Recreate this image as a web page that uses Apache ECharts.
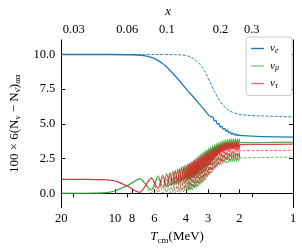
<!DOCTYPE html>
<html><head><meta charset="utf-8">
<script src="https://cdn.jsdelivr.net/npm/echarts@6/dist/echarts.min.js"></script>
<style>html,body{margin:0;padding:0;background:#fff}#c{width:302px;height:250px}</style>
</head><body><div id="c"></div>
<script>
// Shared temperature grid (MeV) for the nu_mu / nu_tau curves
const tOsc = [20, 15.81, 13.13, 11.60, 10.90, 10.25, 9.635, 9.056, 8.513, 8.002, 7.615, 7.247,
  6.247, 5.728, 5.385, 5.125, 4.907, 4.728, 4.584, 4.445, 4.336, 4.230, 4.126, 4.050, 3.976,
  3.903, 3.855, 3.808, 3.761, 3.715, 3.669,
  3.624, 3.579, 3.535, 3.491, 3.448, 3.406, 3.364, 3.323, 3.282, 3.241, 3.201, 3.162, 3.123,
  3.085, 3.047, 3.009, 2.972, 2.936, 2.900, 2.864, 2.829, 2.794, 2.760, 2.726, 2.692, 2.659,
  2.626, 2.594, 2.562, 2.531, 2.500, 2.469, 2.438, 2.408, 2.379, 2.350, 2.321, 2.292, 2.264,
  2.236, 2.208, 2.181, 2.154, 2.128, 2.102, 2.076, 2.050, 2.025, 2.000,
  1.988, 1.50, 1.0];
const muSolid = [0.0, 0.0, 0.01, 0.03, 0.06, 0.13, 0.25, 0.40, 0.56, 0.75, 0.93, 1.05,
  0.25, 1.25, 0.40, 1.42, 0.52, 1.60, 0.62, 1.75, 0.72, 1.90, 0.82, 2.02, 0.90, 2.12, 0.98,
  2.20, 1.03, 2.28, 1.10,
  2.40, 1.20, 2.50, 1.27, 2.62, 1.37, 2.74, 1.47, 2.86, 1.58, 2.97, 1.68, 3.07, 1.80, 3.17,
  1.95, 3.26, 2.10, 3.35, 2.25, 3.44, 2.42, 3.52, 2.58, 3.59, 2.72, 3.65, 2.83, 3.71, 2.95,
  3.77, 3.05, 3.81, 3.12, 3.85, 3.18, 3.88, 3.24, 3.90, 3.28, 3.92, 3.31, 3.92, 3.33, 3.92,
  3.35, 3.92, 3.35, 3.90,
  3.65, 3.66, 3.68];
const tauSolid = [1.0, 1.0, 0.99, 0.98, 0.96, 0.92, 0.82, 0.67, 0.52, 0.32, 0.15, 0.07,
  1.10, 0.35, 1.30, 0.48, 1.48, 0.62, 1.65, 0.75, 1.78, 0.85, 1.92, 0.95, 2.00, 1.02, 2.08,
  1.07, 2.14, 1.12, 2.25,
  1.18, 2.35, 1.26, 2.45, 1.35, 2.57, 1.46, 2.68, 1.58, 2.80, 1.69, 2.90, 1.82, 3.00, 1.95,
  3.08, 2.08, 3.15, 2.22, 3.22, 2.38, 3.30, 2.52, 3.37, 2.66, 3.44, 2.78, 3.50, 2.88, 3.55,
  2.98, 3.60, 3.05, 3.63, 3.10, 3.65, 3.14, 3.65, 3.17, 3.65, 3.19, 3.65, 3.20, 3.65, 3.20,
  3.65, 3.20, 3.65, 3.20,
  3.50, 3.52, 3.54];
const muDashed = [0.0, 0.0, 0.01, 0.03, 0.06, 0.13, 0.25, 0.40, 0.56, 0.75, 0.93, 1.05,
  0.05, 1.10, 0.02, 1.10, 0.02, 1.13, 0.04, 1.17, 0.07, 1.22, 0.10, 1.28, 0.14, 1.33, 0.17,
  1.37, 0.20, 1.41, 0.25,
  1.48, 0.32, 1.56, 0.40, 1.64, 0.50, 1.72, 0.60, 1.80, 0.72, 1.90, 0.85, 2.00, 1.00, 2.10,
  1.15, 2.20, 1.30, 2.30, 1.47, 2.40, 1.62, 2.50, 1.76, 2.59, 1.88, 2.66, 1.98, 2.73, 2.06,
  2.79, 2.12, 2.84, 2.16, 2.87, 2.19, 2.89, 2.21, 2.90, 2.23, 2.90, 2.25, 2.90, 2.25, 2.90,
  2.25, 2.90, 2.25, 2.90,
  2.55, 2.58, 2.62];
const tauDashed = [1.0, 1.0, 0.99, 0.98, 0.96, 0.92, 0.82, 0.67, 0.52, 0.32, 0.15, 0.07,
  1.10, 0.05, 1.15, 0.05, 1.20, 0.07, 1.25, 0.10, 1.30, 0.14, 1.36, 0.19, 1.42, 0.24, 1.46,
  0.28, 1.50, 0.31, 1.55,
  0.38, 1.65, 0.46, 1.75, 0.55, 1.87, 0.65, 2.00, 0.76, 2.12, 0.88, 2.25, 1.02, 2.38, 1.18,
  2.50, 1.32, 2.62, 1.48, 2.74, 1.62, 2.86, 1.78, 2.98, 1.92, 3.08, 2.04, 3.18, 2.15, 3.26,
  2.24, 3.32, 2.31, 3.37, 2.36, 3.40, 2.40, 3.43, 2.42, 3.45, 2.44, 3.45, 2.45, 3.45, 2.45,
  3.45, 2.45, 3.45, 2.45,
  3.05, 3.08, 3.10];
// nu_e curves
const tE = [20, 10.90, 8.002, 7.070, 6.247, 5.872, 5.520, 5.188, 4.584, 3.903, 3.579, 3.162,
  2.864, 2.822, 2.767, 2.712, 2.659, 2.610, 2.562, 2.515, 2.469, 2.423, 2.379, 2.335, 2.292,
  2.250, 2.208, 2.168, 2.128, 2.089, 2.050, 2.013, 1.927, 1.50, 1.0];
const eSolid = [10.0, 10.0, 9.98, 9.93, 9.80, 9.65, 9.43, 9.17, 8.45, 7.40, 6.85, 6.05,
  5.50, 5.50, 5.22, 5.26, 4.98, 5.03, 4.77, 4.84, 4.62, 4.68, 4.47, 4.56, 4.35,
  4.43, 4.25, 4.34, 4.19, 4.27, 4.15, 4.20, 4.15, 4.08, 4.05];
const tEd = [20, 5.872, 4.584, 4.256, 3.855, 3.579, 3.323, 3.123, 2.936, 2.760, 2.594, 2.438,
  2.264, 2.076, 1.812, 1.50, 1.0];
const eDashed = [10.0, 10.0, 9.99, 9.97, 9.88, 9.65, 9.28, 8.78, 8.05, 7.35, 6.72, 6.28,
  5.93, 5.74, 5.62, 5.57, 5.50];
// tick labels
const tTicks = [20, 10, 8, 6, 4, 3, 2, 1];
const xTicks = [0.03, 0.06, 0.1, 0.2, 0.3];
const yTicks = [0, 2.5, 5, 7.5, 10];
const ME = 0.511;

const FONT = 'Liberation Serif';
const BLUE = '#1f77b4', GREEN = '#2ca02c', RED = '#d62728';
const zip = (ts, vs) => ts.map((t, i) => [t, vs[i]]);
const axisLine = {show: true, lineStyle: {color: '#000', width: 1}};
const tickStyle = (vals) => ({show: true, inside: true, length: 4, lineStyle: {color: '#000', width: 1}, customValues: vals});
const richBase = {
  n: {fontFamily: FONT, fontSize: 13, color: '#000', lineHeight: 16, verticalAlign: 'middle'},
  i: {fontFamily: FONT, fontSize: 13, color: '#000', fontStyle: 'italic', lineHeight: 16, verticalAlign: 'middle'},
  s: {fontFamily: FONT, fontSize: 9, color: '#000', lineHeight: 9, verticalAlign: 'bottom'}
};
const legendNames = {'νe': '{g|ν}{s|e}', 'νμ': '{g|ν}{s|μ}', 'ντ': '{g|ν}{s|τ}'};

const chart = echarts.init(document.getElementById('c'), null, {renderer: 'canvas'});
chart.setOption({
  animation: false,
  backgroundColor: '#fff',
  grid: {left: 51, right: 9, top: 32, bottom: 38, containLabel: false},
  legend: {
    data: [
      {name: 'νe', icon: 'rect', itemStyle: {color: BLUE}},
      {name: 'νμ', icon: 'rect', itemStyle: {color: GREEN, opacity: 0.55}},
      {name: 'ντ', icon: 'rect', itemStyle: {color: RED, opacity: 0.65}}
    ],
    orient: 'vertical', right: 10, top: 37,
    backgroundColor: '#fff', borderColor: '#ccc', borderWidth: 1, borderRadius: 3,
    padding: [6, 13, 6, 5], itemWidth: 13, itemHeight: 1.4, itemGap: 6, selectedMode: false,
    formatter: n => legendNames[n],
    textStyle: {padding: [0, 0, 0, 1], rich: {
      g: {fontFamily: FONT, fontSize: 11, fontStyle: 'italic', color: '#000', lineHeight: 12, verticalAlign: 'middle'},
      s: {fontFamily: FONT, fontSize: 8, fontStyle: 'italic', color: '#000', lineHeight: 8, verticalAlign: 'bottom'}
    }}
  },
  xAxis: [{
    type: 'log', logBase: 10, min: 1, max: 20, inverse: true, position: 'bottom', gridIndex: 0,
    axisLine, splitLine: {show: false}, minorTick: {show: false},
    axisTick: tickStyle(tTicks),
    axisLabel: {customValues: tTicks, margin: 5, fontFamily: FONT, fontSize: 12.5, color: '#000', formatter: v => String(+(+v).toPrecision(3))},
    name: '{i|T}{s|cm}{n|(MeV)}', nameLocation: 'middle', nameGap: 19,
    nameTextStyle: {rich: richBase}
  }, {
    type: 'log', logBase: 10, min: ME / 20, max: ME / 1, position: 'top', gridIndex: 0,
    axisLine, splitLine: {show: false}, minorTick: {show: false},
    axisTick: tickStyle(xTicks),
    axisLabel: {customValues: xTicks, margin: 4, fontFamily: FONT, fontSize: 12.5, color: '#000', formatter: v => String(+(+v).toPrecision(3))},
    name: '{i|x}', nameLocation: 'middle', nameGap: 20,
    nameTextStyle: {rich: richBase, padding: [0, 18, 0, 0]}
  }],
  yAxis: [{
    type: 'value', min: -1.03, max: 11.05, position: 'left',
    axisLine, splitLine: {show: false},
    axisTick: tickStyle(yTicks),
    axisLabel: {customValues: yTicks, margin: 6, fontFamily: FONT, fontSize: 12.5, color: '#000', formatter: v => (+v).toFixed(1)},
    name: '{n|100 × 6(N}{s|ν}{n| − N}{s|ν̄}{n|)}{s|αα}', nameLocation: 'middle', nameGap: 33, nameRotate: 90,
    nameTextStyle: {rich: richBase}
  }, {
    type: 'value', min: -1.03, max: 11.05, position: 'right',
    axisLine, splitLine: {show: false},
    axisTick: tickStyle(yTicks),
    axisLabel: {show: false}
  }],
  series: [
    {name: 'νe', type: 'line', data: zip(tE, eSolid), symbol: 'none', smooth: 0.3,
     lineStyle: {color: BLUE, width: 1.3}, itemStyle: {color: BLUE}, z: 3},
    {name: 'νe dashed', type: 'line', data: zip(tEd, eDashed), symbol: 'none', smooth: 0.3,
     lineStyle: {color: BLUE, width: 0.9, type: [3, 1.5]}, itemStyle: {color: BLUE}, z: 3},
    {name: 'νμ', type: 'line', data: zip(tOsc, muSolid), symbol: 'none', smooth: 0.25,
     lineStyle: {color: GREEN, width: 1.2, opacity: 0.85}, itemStyle: {color: GREEN}, z: 4},
    {name: 'νμ dashed', type: 'line', data: zip(tOsc, muDashed), symbol: 'none', smooth: 0.25,
     lineStyle: {color: GREEN, width: 0.9, opacity: 0.8, type: [3, 1.5]}, itemStyle: {color: GREEN}, z: 4},
    {name: 'ντ', type: 'line', data: zip(tOsc, tauSolid), symbol: 'none', smooth: 0.25,
     lineStyle: {color: RED, width: 1.2, opacity: 0.85}, itemStyle: {color: RED}, z: 5},
    {name: 'ντ dashed', type: 'line', data: zip(tOsc, tauDashed), symbol: 'none', smooth: 0.25,
     lineStyle: {color: RED, width: 0.9, opacity: 0.8, type: [3, 1.5]}, itemStyle: {color: RED}, z: 5}
  ]
});
</script></body></html>
